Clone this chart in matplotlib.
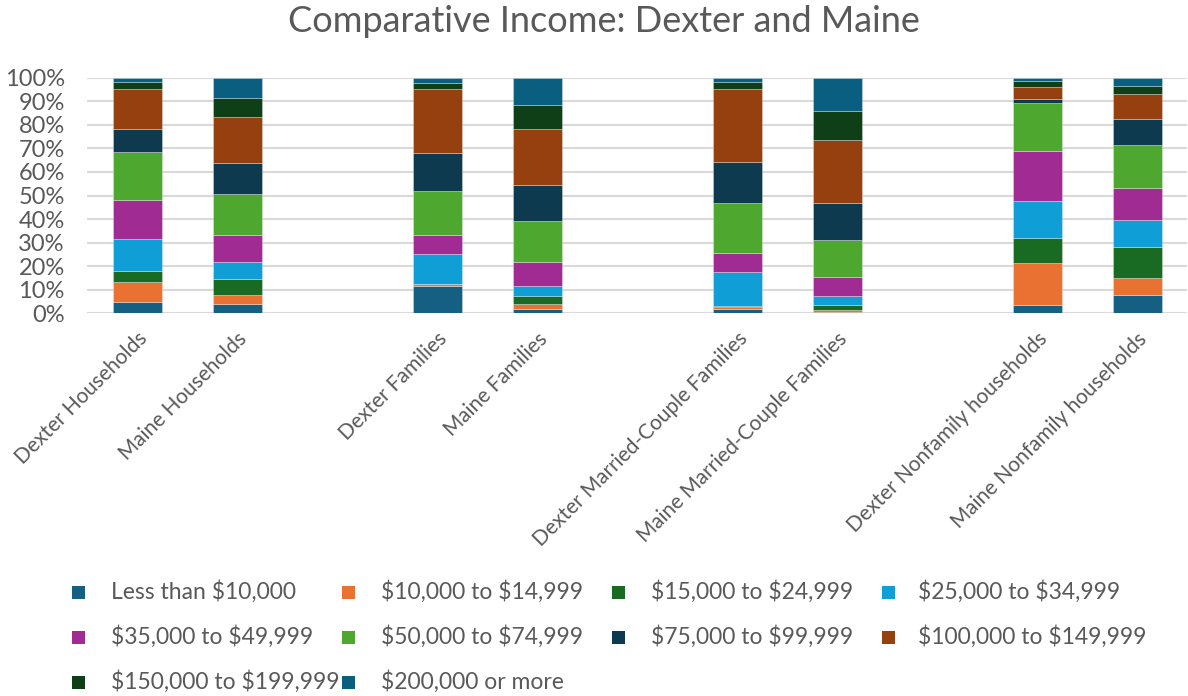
import matplotlib
matplotlib.use("Agg")
import matplotlib.pyplot as plt
from matplotlib.patches import Rectangle
import numpy as np

categories = ["Dexter Households", "Maine Households", "Dexter Families", "Maine Families",
              "Dexter Married-Couple Families", "Maine Married-Couple Families",
              "Dexter Nonfamily households", "Maine Nonfamily households"]
positions = [0, 1, 3, 4, 6, 7, 9, 10]

series_names = ["Less than $10,000", "$10,000 to $14,999", "$15,000 to $24,999", "$25,000 to $34,999",
                "$35,000 to $49,999", "$50,000 to $74,999", "$75,000 to $99,999", "$100,000 to $149,999",
                "$150,000 to $199,999", "$200,000 or more"]

lt10k     = [4.7, 4.0, 11.6, 2.0, 1.7, 0.7, 3.7, 7.6]
k10_15    = [8.5, 3.6, 1.0, 1.8, 1.1, 0.7, 17.8, 7.3]
k15_25    = [4.9, 7.1, 0.0, 3.4, 0.3, 2.3, 10.6, 13.4]
k25_35    = [13.3, 7.1, 12.6, 4.3, 14.3, 3.5, 15.4, 11.3]
k35_50    = [16.8, 11.3, 7.9, 10.3, 8.1, 8.4, 21.5, 13.7]
k50_75    = [20.4, 17.5, 18.8, 17.5, 21.3, 15.7, 20.4, 18.1]
k75_100   = [9.6, 13.3, 16.1, 15.3, 17.3, 15.4, 1.7, 11.2]
k100_150  = [17.1, 19.6, 27.2, 23.6, 30.9, 27.0, 4.8, 10.3]
k150_200  = [2.9, 7.7, 2.7, 10.1, 3.3, 12.0, 2.5, 3.4]
k200plus  = [1.8, 8.8, 2.1, 11.7, 1.7, 14.3, 1.6, 3.7]

series = [lt10k, k10_15, k15_25, k25_35, k35_50, k50_75, k75_100, k100_150, k150_200, k200plus]
colors = ["#156082", "#E97132", "#196B24", "#0F9ED5", "#A02B93", "#4EA72E",
          "#0D3A4F", "#964010", "#0F3F17", "#0A5F80"]

plt.rcParams['font.family'] = ['Lato', 'DejaVu Sans']
plt.rcParams['text.parse_math'] = False

W, H = 1188, 696
fig = plt.figure(figsize=(W / 100, H / 100), dpi=100)
ax = fig.add_axes([87 / W, 1 - 313.3 / H, 1100 / W, (313.3 - 77.7) / H])

bottom = np.zeros(len(categories))
for name, vals, col in zip(series_names, series, colors):
    v = np.array(vals) / 100.0
    ax.bar(positions, v, bottom=bottom, width=0.49, color=col, label=name,
           edgecolor=(1, 1, 1, 0.35), linewidth=0.6, zorder=3)
    bottom += v

ax.set_xlim(-0.5, 10.5)
ax.set_ylim(0, 1)
yt = np.arange(0, 1.01, 0.1)
ax.set_yticks(yt)
ax.set_yticklabels([f"{int(round(t * 100))}%" for t in yt], fontsize=17, color="#595959")
ax.yaxis.grid(True, color="#D9D9D9", linewidth=1.5, zorder=0)
ax.set_axisbelow(True)
for s in ax.spines.values():
    s.set_visible(False)
ax.tick_params(axis='y', length=0, pad=16)
ax.set_xticks(positions)
ax.set_xticklabels(categories, rotation=45, ha='right', va='top', rotation_mode='anchor',
                   fontsize=15, color="#595959")
ax.tick_params(axis='x', length=0, pad=11)

fig.text(603.5 / W, 1 - 21 / H, "Comparative Income: Dexter and Maine", ha='center', va='center',
         fontsize=26, color="#595959")

# Legend laid out in rows like the reference (row-major)
marker_x = [72, 342, 612, 882]
text_x = [111, 381, 651, 918]
row_y = [592, 637, 682]
sq = 13
for i, (name, col) in enumerate(zip(series_names, colors)):
    r, c = divmod(i, 4)
    fig.patches.append(Rectangle((marker_x[c] / W, 1 - (row_y[r] + sq / 2) / H), sq / W, sq / H,
                                 transform=fig.transFigure, facecolor=col, edgecolor='none'))
    fig.text(text_x[c] / W, 1 - row_y[r] / H, name, ha='left', va='center',
             fontsize=16.5, color="#595959")

fig.savefig("out.png", dpi=100)
